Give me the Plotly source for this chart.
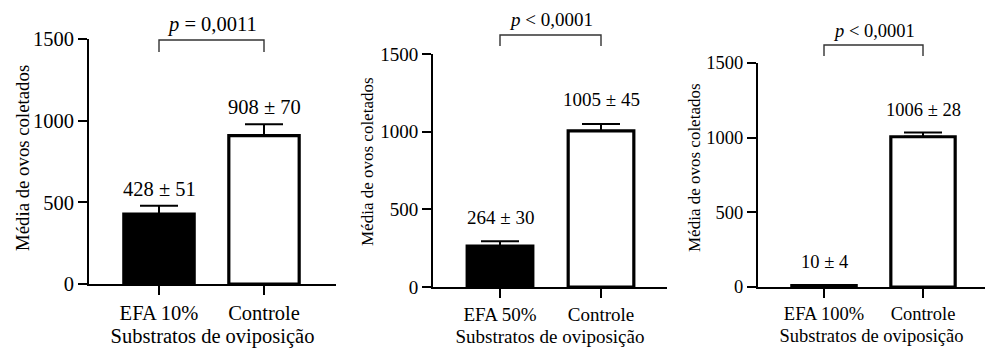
import plotly.graph_objects as go

# ---------------- data ----------------
cats1 = ["EFA 10%", "Controle"]
means1 = [428, 908]
errs1 = [51, 70]
p1 = "<i>p</i> = 0,0011"

cats2 = ["EFA 50%", "Controle"]
means2 = [264, 1005]
errs2 = [30, 45]
p2 = "<i>p</i> < 0,0001"

cats3 = ["EFA 100%", "Controle"]
means3 = [10, 1006]
errs3 = [4, 28]
p3 = "<i>p</i> < 0,0001"

y_ticks = [0, 500, 1000, 1500]
y_title = "Média de ovos coletados"
x_title = "Substratos de oviposição"

# ---------------- layout helpers ----------------
W, H = 985, 349
FONT = "Liberation Serif, Times New Roman, Times, DejaVu Serif, serif"

panels = [
    dict(cats=cats1, means=means1, errs=errs1, p=p1, ax=(89, 336), cx=(159, 264), ay=(284, 39),
         fs=20.5, yfs=18.8, ytx=(22, 158), bw=0.67, lshift=17, br=(40, 52), pt=25),
    dict(cats=cats2, means=means2, errs=errs2, p=p2, ax=(433, 667), cx=(500, 601), ay=(287, 54),
         fs=19, yfs=17, ytx=(367, 162), bw=0.65, lshift=24, br=(35, 46), pt=19),
    dict(cats=cats3, means=means3, errs=errs3, p=p3, ax=(758, 985), cx=(824, 923), ay=(287, 63),
         fs=18.5, yfs=17, ytx=(694, 168), bw=0.65, lshift=23, br=(45, 56), pt=31),
]

fig = go.Figure()
shapes = []
annotations = []

for i, pn in enumerate(panels, start=1):
    xs = "" if i == 1 else str(i)
    xa, ya = "x" + xs, "y" + xs
    fs = pn["fs"]
    (l, r), (c0, c1), (y0, yt) = pn["ax"], pn["cx"], pn["ay"]
    ppu = c1 - c0
    xr = [-(c0 - l) / ppu, 1 + (r - c1) / ppu]

    fig.add_trace(go.Bar(
        x=pn["cats"], y=pn["means"],
        marker=dict(color=["black", "white"], line=dict(color="black", width=3.2)),
        width=pn["bw"],
        error_y=dict(type="data", array=pn["errs"], symmetric=False,
                     arrayminus=[0, 0], color="black", thickness=2, width=19),
        xaxis=xa, yaxis=ya, showlegend=False, hoverinfo="skip",
    ))

    fig.layout["xaxis" + xs] = dict(
        domain=[l / W, r / W], anchor=ya, type="category", range=xr,
        showline=True, linecolor="black", linewidth=2,
        ticks="outside", ticklen=9, tickwidth=2, tickcolor="black",
        showgrid=False, zeroline=False, automargin=False,
        tickfont=dict(family=FONT, size=fs, color="black"),
        title=dict(text=x_title, font=dict(family=FONT, size=fs, color="black"), standoff=6),
        fixedrange=True,
    )
    fig.layout["yaxis" + xs] = dict(
        domain=[(H - y0) / H, (H - yt) / H], anchor=xa, range=[0, 1500],
        tickvals=y_ticks, showline=True, linecolor="black", linewidth=2,
        ticks="outside", ticklen=9, tickwidth=2, tickcolor="black",
        showgrid=False, zeroline=False, automargin=False,
        tickfont=dict(family=FONT, size=fs, color="black"),
        fixedrange=True,
    )

    # y-axis title as rotated text
    annotations.append(dict(
        x=pn["ytx"][0] / W, y=(H - pn["ytx"][1]) / H, xref="paper", yref="paper",
        text=y_title, textangle=-90, showarrow=False, xanchor="center", yanchor="middle",
        font=dict(family=FONT, size=pn["yfs"], color="black"),
    ))

    for c, m, e in zip(pn["cats"], pn["means"], pn["errs"]):
        annotations.append(dict(
            x=c, y=m + e, xref=xa, yref=ya, text=f"{m} ± {e}", showarrow=False,
            yanchor="middle", yshift=pn["lshift"],
            font=dict(family=FONT, size=fs, color="black"),
        ))

    btop = (H - pn["br"][0]) / H
    bleg = (H - pn["br"][1]) / H
    shapes.append(dict(type="path", xref=xa, yref="paper",
                       path=f"M 0,{bleg} L 0,{btop} L 1,{btop} L 1,{bleg}",
                       line=dict(color="#333333", width=1.4)))
    annotations.append(dict(
        x=0.5, y=(H - pn["pt"]) / H, xref=xa, yref="paper", text=pn["p"], showarrow=False,
        yanchor="middle", font=dict(family=FONT, size=fs, color="black"),
    ))

fig.update_layout(
    width=W, height=H, margin=dict(l=0, r=0, t=0, b=0, pad=0, autoexpand=False),
    paper_bgcolor="white", plot_bgcolor="white",
    font=dict(family=FONT, color="black"),
    shapes=shapes, annotations=annotations, bargap=0.3,
)

fig.write_html("out.html", config={"displayModeBar": False, "staticPlot": True},
               post_script="document.body.style.margin='0';document.body.style.overflow='hidden';")
